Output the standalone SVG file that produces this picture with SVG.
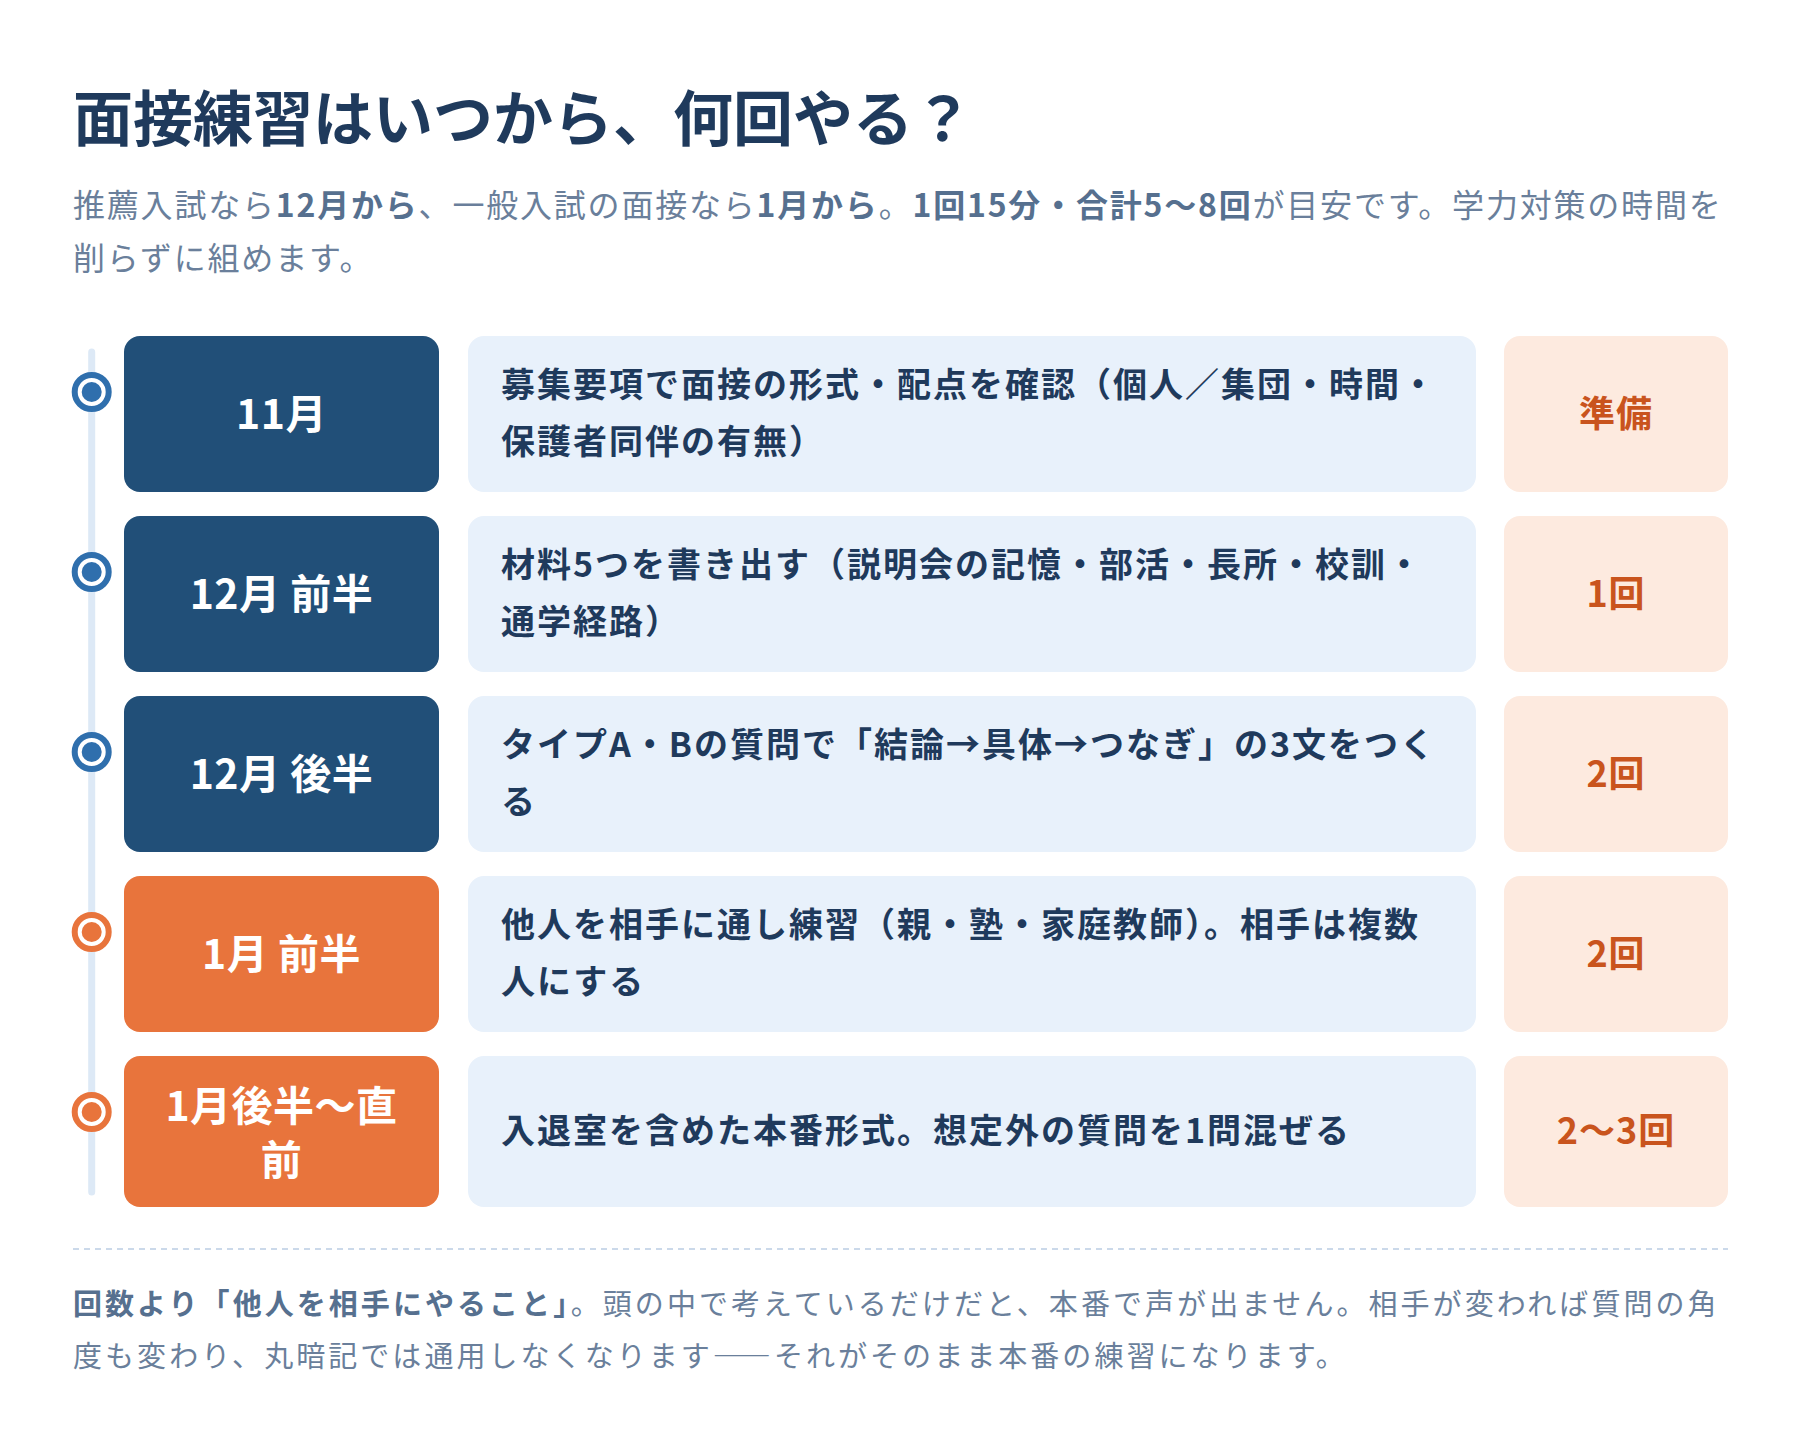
<svg xmlns="http://www.w3.org/2000/svg" width="1800" height="1448" viewBox="0 0 1800 1448">
<style>
text{font-family:"Noto Sans CJK JP","Noto Sans",sans-serif}
.title{font-size:60px;font-weight:700;fill:#1f3a5c;letter-spacing:0px}
.sub{font-size:32px;font-weight:400;fill:#6a7f9b;letter-spacing:1.8px}
.sub .b{font-weight:700;fill:#56708f}
.month{fill:#214f78}
.month.o{fill:#e8743c}
.mt{font-size:41px;font-weight:700;fill:#ffffff;text-anchor:middle;letter-spacing:0.5px}
.desc{fill:#e8f1fb}
.dt{font-size:34px;font-weight:700;fill:#1f3a5c;letter-spacing:2px}
.cnt{fill:#fdeadf}
.ct{font-size:36px;font-weight:700;fill:#c9541d;text-anchor:middle;letter-spacing:1px}
.ring{fill:#ffffff;stroke-width:6}
.ring.b{stroke:#2f6fad}
.ring.o{stroke:#e8743c}
.dot.b{fill:#2f6fad}
.dot.o{fill:#e8743c}
.foot{font-size:29px;font-weight:400;fill:#6a7f9b;letter-spacing:3.05px}
.foot .b{font-weight:700;fill:#56708f}
.fw{font-feature-settings:"fwid" 1}
</style>
<rect width="1800" height="1448" fill="#ffffff"/>
<g id="header">
<text class="title" x="73" y="141">面接練習はいつから、何回やる？</text>
<text class="sub" x="73" y="217">推薦入試なら<tspan class="b">12月から</tspan>、一般入試の面接なら<tspan class="b">1月から</tspan>。<tspan class="b">1回15分・合計5〜8回</tspan>が目安です。学力対策の時間を</text>
<text class="sub" x="73" y="270">削らずに組めます。</text>
</g>
<g id="connectors">
<line x1="91.7" y1="352" x2="91.7" y2="1192" stroke="#dde9f6" stroke-width="7" stroke-linecap="round"/>
</g>
<g id="row1">
<circle class="ring b" cx="91.7" cy="392" r="17"/><circle class="dot b" cx="91.7" cy="392" r="10"/>
<rect class="month" x="124" y="336" width="315" height="156" rx="16"/>
<text class="mt" x="281.5" y="429">11月</text>
<rect class="desc" x="468" y="336" width="1008" height="156" rx="16"/>
<text class="dt" x="501" y="397">募集要項で面接の形式・配点を確認（個人／集団・時間・</text>
<text class="dt" x="501" y="454">保護者同伴の有無）</text>
<rect class="cnt" x="1504" y="336" width="224" height="156" rx="16"/>
<text class="ct" x="1616" y="427">準備</text>
</g>
<g id="row2">
<circle class="ring b" cx="91.7" cy="572" r="17"/><circle class="dot b" cx="91.7" cy="572" r="10"/>
<rect class="month" x="124" y="516" width="315" height="156" rx="16"/>
<text class="mt" x="281.5" y="609">12月 前半</text>
<rect class="desc" x="468" y="516" width="1008" height="156" rx="16"/>
<text class="dt" x="501" y="577">材料5つを書き出す（説明会の記憶・部活・長所・校訓・</text>
<text class="dt" x="501" y="634">通学経路）</text>
<rect class="cnt" x="1504" y="516" width="224" height="156" rx="16"/>
<text class="ct" x="1616" y="607">1回</text>
</g>
<g id="row3">
<circle class="ring b" cx="91.7" cy="752" r="17"/><circle class="dot b" cx="91.7" cy="752" r="10"/>
<rect class="month" x="124" y="696" width="315" height="156" rx="16"/>
<text class="mt" x="281.5" y="789">12月 後半</text>
<rect class="desc" x="468" y="696" width="1008" height="156" rx="16"/>
<text class="dt" x="501" y="757">タイプA・Bの質問で「結論→具体→つなぎ」の3文をつく</text>
<text class="dt" x="501" y="814">る</text>
<rect class="cnt" x="1504" y="696" width="224" height="156" rx="16"/>
<text class="ct" x="1616" y="787">2回</text>
</g>
<g id="row4">
<circle class="ring o" cx="91.7" cy="932" r="17"/><circle class="dot o" cx="91.7" cy="932" r="10"/>
<rect class="month o" x="124" y="876" width="315" height="156" rx="16"/>
<text class="mt" x="281.5" y="969">1月 前半</text>
<rect class="desc" x="468" y="876" width="1008" height="156" rx="16"/>
<text class="dt" x="501" y="937">他人を相手に通し練習（親・塾・家庭教師）。相手は複数</text>
<text class="dt" x="501" y="994">人にする</text>
<rect class="cnt" x="1504" y="876" width="224" height="156" rx="16"/>
<text class="ct" x="1616" y="967">2回</text>
</g>
<g id="row5">
<circle class="ring o" cx="91.7" cy="1112" r="17"/><circle class="dot o" cx="91.7" cy="1112" r="10"/>
<rect class="month o" x="124" y="1056" width="315" height="151" rx="16"/>
<text class="mt" x="281.5" y="1121">1月後半〜直<tspan x="281.5" dy="54">前</tspan></text>
<rect class="desc" x="468" y="1056" width="1008" height="151" rx="16"/>
<text class="dt" x="501" y="1143">入退室を含めた本番形式。想定外の質問を1問混ぜる</text>
<rect class="cnt" x="1504" y="1056" width="224" height="151" rx="16"/>
<text class="ct" x="1616" y="1144">2〜3回</text>
</g>
<g id="footer">
<line x1="73" y1="1249" x2="1728" y2="1249" stroke="#cbd9ea" stroke-width="2" stroke-dasharray="6 5"/>
<text class="foot" x="73" y="1315"><tspan class="b">回数より「他人を相手にやること」</tspan>。頭の中で考えているだけだと、本番で声が出ません。相手が変われば質問の角</text>
<text class="foot" x="73" y="1367">度も変わり、丸暗記では通用しなくなります<tspan class="fw">——</tspan>それがそのまま本番の練習になります。</text>
</g>
</svg>
